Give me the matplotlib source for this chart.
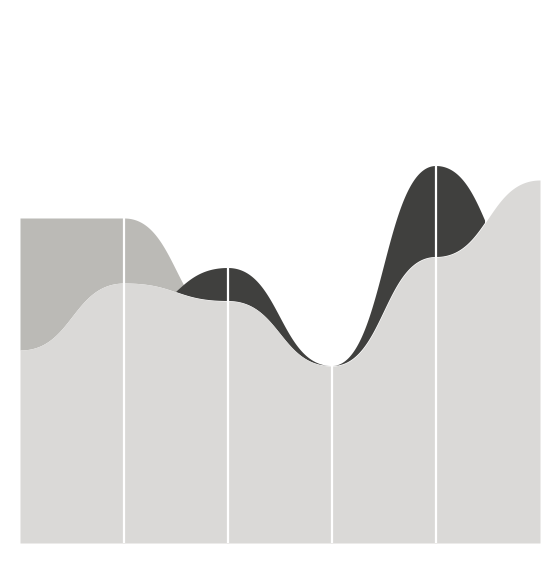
import numpy as np
import matplotlib
matplotlib.use("Agg")
import matplotlib.pyplot as plt

# Data (x categories 0..5)
x_points = [0, 1, 2, 3, 4, 5]
series_back = [325, 325, 221, 150, 240, 300]     # medium gray (drawn behind)
series_mid = [180, 227, 275, 177, 377, 254]      # dark (middle layer)
series_front = [193, 260, 242, 177, 286, 363]    # light gray (front)

colors = {"back": "#bbbab6", "mid": "#40403e", "front": "#dad9d7"}


def bump_x(xs, ys, n=120):
    """d3.curveBumpX style interpolation: cubic Bezier with horizontal tangents."""
    out_x, out_y = [], []
    t = np.linspace(0, 1, n)
    for i in range(len(xs) - 1):
        x0, x1 = xs[i], xs[i + 1]
        y0, y1 = ys[i], ys[i + 1]
        xm = (x0 + x1) / 2
        bx = (1 - t) ** 3 * x0 + 3 * t * (1 - t) ** 2 * xm + 3 * t ** 2 * (1 - t) * xm + t ** 3 * x1
        by = (1 - t) ** 3 * y0 + 3 * t * (1 - t) ** 2 * y0 + 3 * t ** 2 * (1 - t) * y1 + t ** 3 * y1
        if i > 0:
            bx, by = bx[1:], by[1:]
        out_x.extend(bx)
        out_y.extend(by)
    return np.array(out_x), np.array(out_y)


fig = plt.figure(figsize=(5.6, 5.61), dpi=100)
ax = fig.add_axes([20 / 560, 18 / 561, 520 / 560, 543 / 561])
ax.set_xlim(x_points[0], x_points[-1])
ax.set_ylim(0, 543)
ax.axis("off")

bx, yb = bump_x(x_points, series_back)
_, ym = bump_x(x_points, series_mid)
_, yf = bump_x(x_points, series_front)

# Only the visible part of each layer is painted, so no edges leak through
mid_top = np.maximum(ym, yf)
back_top = np.maximum(yb, mid_top)
ax.fill_between(bx, mid_top, back_top, where=back_top > mid_top + 1e-9,
                color=colors["back"], linewidth=0, zorder=1)
ax.fill_between(bx, yf, mid_top, where=mid_top > yf + 1e-9,
                color=colors["mid"], linewidth=0, zorder=2)
ax.fill_between(bx, 0, yf, color=colors["front"], linewidth=0, zorder=3)

for xv in x_points[1:-1]:
    ax.axvline(xv, color="white", linewidth=1.6, zorder=5)

fig.savefig("out.png", dpi=100, facecolor="white")
